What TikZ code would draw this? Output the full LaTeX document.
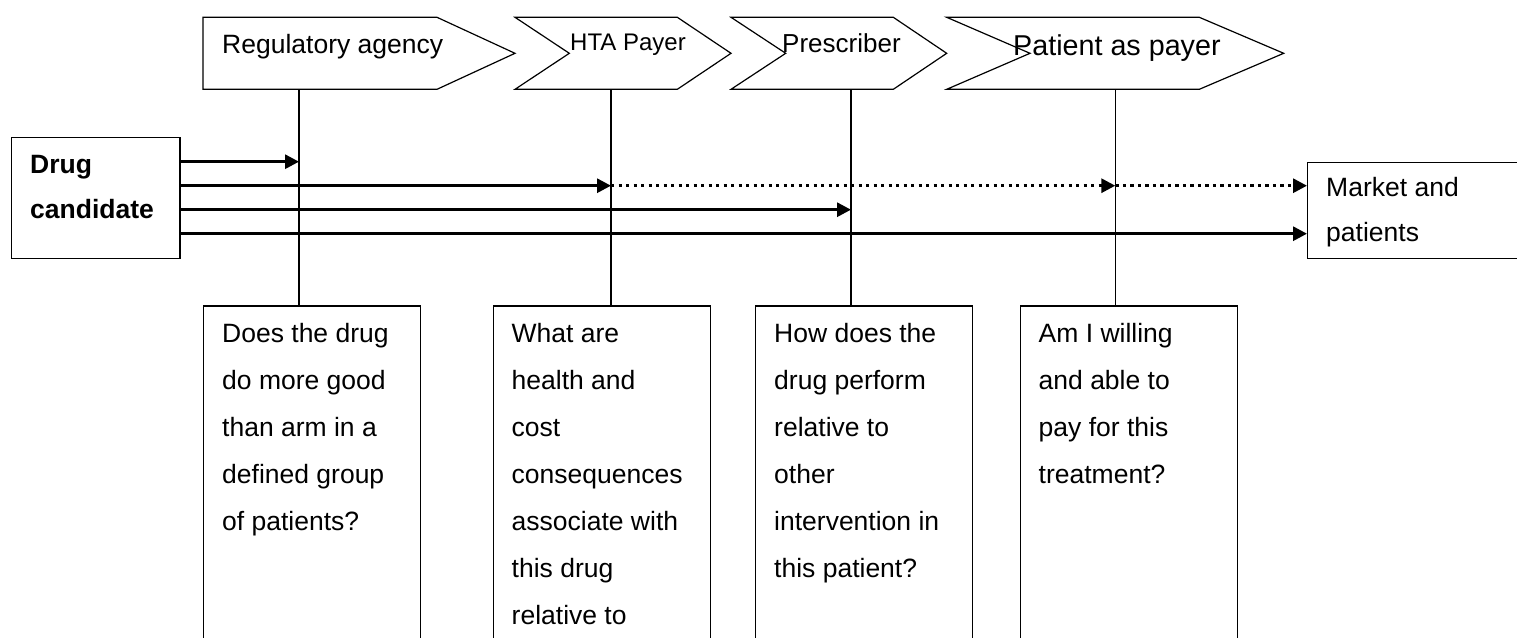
\documentclass[tikz,border=0pt]{standalone}
\usepackage{fontspec}
\setmainfont{Liberation Sans}
\usepackage{tikz}
\usetikzlibrary{arrows.meta}

\tikzset{
  stage/.style={draw, line width=1.2pt, line join=miter},
  box/.style={draw, line width=1.2pt, inner sep=0pt, anchor=north west},
  boxtext/.style={anchor=north west, align=left, inner sep=0pt, font=\fontsize{26.5}{46.9}\selectfont},
  stagetext/.style={anchor=base west, inner sep=0pt},
  vline/.style={line width=1.2pt},
  flow/.style={line width=3pt, -{Triangle[length=14pt,width=14pt]}},
  flowdot/.style={flow, dash pattern=on 3.3pt off 4.2pt},
}

\begin{document}
\begin{tikzpicture}[x=1pt,y=-1pt]
        \useasboundingbox (0,0) rectangle (1517,637);
        \clip (0,0) rectangle (1517,637);
        % stages
        \draw[stage] (203,17.3) -- (437,17.3) -- (515,53.3) -- (437,89.3) -- (203,89.3) -- cycle;
        \draw[stage] (515,17.3) -- (677.3,17.3) -- (731,53.3) -- (677.3,89.3) -- (515,89.3) -- (569.3,53.3) -- cycle;
        \draw[stage] (731,17.3) -- (893.3,17.3) -- (946.7,53.3) -- (893.3,89.3) -- (731,89.3) -- (785.7,53.3) -- cycle;
        \draw[stage] (946.7,17.3) -- (1199.3,17.3) -- (1283.7,53.3) -- (1199.3,89.3) -- (946.7,89.3) -- (1030,53.3) -- cycle;
        \node[stagetext, font=\fontsize{26.5}{30}\selectfont] (reg) at (222,53.3) {Regulatory agency};
        \node[stagetext, font=\fontsize{24}{28}\selectfont] (hta) at (570,50) {HTA Payer};
        \node[stagetext, font=\fontsize{26}{30}\selectfont] (presc) at (782,52.7) {Prescriber};
        \node[stagetext, font=\fontsize{28.7}{32}\selectfont] (patpay) at (1013,55) {Patient as payer};
        \coordinate (regfoot) at (299,89.3);
        \coordinate (htafoot) at (611,89.3);
        \coordinate (prescfoot) at (851,89.3);
        \coordinate (patfoot) at (1115.3,89.3);
        % questions
        \node[box, minimum width=217, minimum height=400] (q1) at (203,305.3) {};
        \node[box, minimum width=217, minimum height=400] (q2) at (492.5,305.3) {};
        \node[box, minimum width=217, minimum height=400] (q3) at (755,305.3) {};
        \node[box, minimum width=217, minimum height=400] (q4) at (1019.5,305.3) {};
        \node[boxtext] (q1txt) at (222,323.5) {Does the drug\\do more good\\than arm in a\\defined group\\of patients?};
        \node[boxtext] (q2txt) at (511.5,323.5) {What are\\health and\\cost\\consequences\\associate with\\this drug\\relative to};
        \node[boxtext] (q3txt) at (774,323.5) {How does the\\drug perform\\relative to\\other\\intervention in\\this patient?};
        \node[boxtext] (q4txt) at (1038.5,323.5) {Am I willing\\and able to\\pay for this\\treatment?};
        \draw[vline] (regfoot) -- (regfoot |- q1.north);
        \draw[vline] (htafoot) -- (htafoot |- q2.north);
        \draw[vline] (prescfoot) -- (prescfoot |- q3.north);
        \draw[vline] (patfoot) -- (patfoot |- q4.north);
        % ends
        \node[box, minimum width=168.6, minimum height=120.7] (drug) at (10.7,137) {};
        \node[box, minimum width=300, minimum height=96] (market) at (1307,161.7) {};
        \node[boxtext, font=\bfseries\fontsize{26.5}{45.5}\selectfont] (drugtxt) at (30,154.7) {Drug\\candidate};
        \node[boxtext, font=\fontsize{26.5}{45}\selectfont] (markettxt) at (1326,177.5) {Market and\\patients};
        % flows
        \coordinate (lane1) at (0,161.7);
        \coordinate (lane2) at (0,185.7);
        \coordinate (lane3) at (0,209.7);
        \coordinate (lane4) at (0,233.7);
        \draw[flow] (drug.east |- lane1) -- (regfoot |- lane1);
        \draw[flow] (drug.east |- lane2) -- (htafoot |- lane2);
        \draw[flowdot] (htafoot |- lane2) -- (patfoot |- lane2);
        \draw[flowdot] (patfoot |- lane2) -- (market.west |- lane2);
        \draw[flow] (drug.east |- lane3) -- (prescfoot |- lane3);
        \draw[flow] (drug.east |- lane4) -- (market.west |- lane4);
        \end{tikzpicture}
\end{document}
